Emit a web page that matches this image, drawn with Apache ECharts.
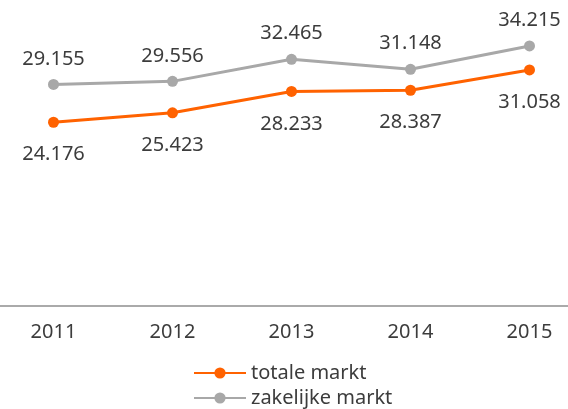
<!DOCTYPE html>
<html>
<head>
<meta charset="utf-8">
<script src="https://cdn.jsdelivr.net/npm/echarts@6/dist/echarts.min.js"></script>
<style>
  html, body { margin: 0; padding: 0; background: #fff; }
  #chart { width: 568px; height: 409px; }
</style>
</head>
<body>
<div id="chart"></div>
<script>
const years = ['2011', '2012', '2013', '2014', '2015'];
const totaleMarkt = [24.176, 25.423, 28.233, 28.387, 31.058];
const zakelijkeMarkt = [29.155, 29.556, 32.465, 31.148, 34.215];
const seriesNames = ['totale markt', 'zakelijke markt'];

const chart = echarts.init(document.getElementById('chart'));
const font = '"Noto Sans", sans-serif';
const textColor = '#3c3c3c';

// one legend per row so they stack
const legendRow = (name, top) => ({
  left: 193,
  top: top,
  padding: 0,
  itemWidth: 52,
  itemHeight: 14,
  textStyle: { color: textColor, fontSize: 20, fontFamily: font },
  data: [name]
});

chart.setOption({
  animation: false,
  textStyle: { fontFamily: font },
  grid: { left: -6, width: 595, top: 2, height: 304, outerBoundsMode: 'none' },
  legend: [legendRow(seriesNames[0], 363), legendRow(seriesNames[1], 388)],
  xAxis: {
    type: 'category',
    data: years,
    axisLine: { lineStyle: { color: '#aaaaaa', width: 2 } },
    axisTick: { show: false },
    axisLabel: { color: textColor, fontSize: 20, margin: 16, fontFamily: font }
  },
  yAxis: {
    type: 'value',
    min: 0,
    max: 40,
    show: false,
    splitLine: { show: false }
  },
  series: [
    {
      name: seriesNames[0],
      type: 'line',
      data: totaleMarkt,
      symbol: 'circle',
      symbolSize: 11,
      color: '#ff6200',
      lineStyle: { width: 3, color: '#ff6200' },
      label: {
        show: true,
        position: 'bottom',
        distance: 17,
        color: textColor,
        fontSize: 20,
        fontFamily: font,
        formatter: p => p.value.toFixed(3)
      }
    },
    {
      name: seriesNames[1],
      type: 'line',
      data: zakelijkeMarkt,
      symbol: 'circle',
      symbolSize: 11,
      color: '#a8a8a8',
      lineStyle: { width: 3, color: '#a8a8a8' },
      label: {
        show: true,
        position: 'top',
        distance: 10,
        color: textColor,
        fontSize: 20,
        fontFamily: font,
        formatter: p => p.value.toFixed(3)
      }
    }
  ]
});
</script>
</body>
</html>
